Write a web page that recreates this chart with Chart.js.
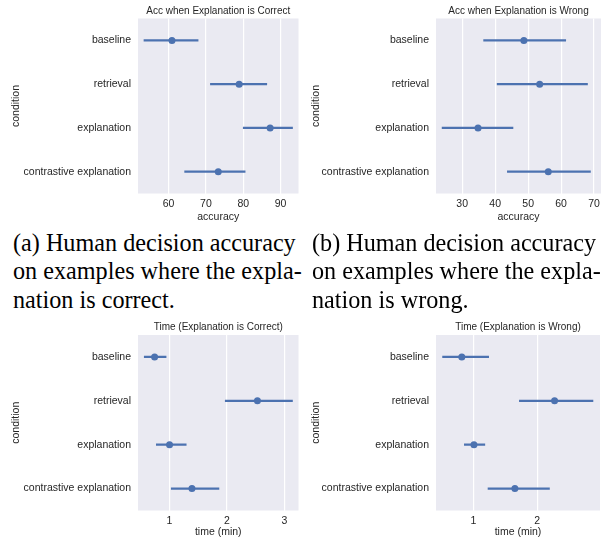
<!DOCTYPE html>
<html><head><meta charset="utf-8">
<script src="https://cdn.jsdelivr.net/npm/chart.js@4"></script>
<style>
html,body{margin:0;padding:0;background:#fff;}
body{width:605px;height:539px;position:relative;overflow:hidden;}
.p{position:absolute;}
.cap{position:absolute;font-family:"Liberation Serif","Times New Roman",serif;font-size:24.2px;line-height:28.7px;color:#000;white-space:nowrap;}
</style></head><body>
<div class="p" style="left:0;top:0;width:302px;height:224px"><canvas id="c1"></canvas></div>
<div class="p" style="left:300px;top:0;width:305px;height:224px"><canvas id="c2"></canvas></div>
<div class="p" style="left:0;top:316px;width:302px;height:223px"><canvas id="c3"></canvas></div>
<div class="p" style="left:300px;top:316px;width:305px;height:223px"><canvas id="c4"></canvas></div>
<div class="cap" style="left:13px;top:228.6px">(a) Human decision accuracy<br>on examples where the expla-<br>nation is correct.</div>
<div class="cap" style="left:312px;top:228.6px">(b) Human decision accuracy<br>on examples where the expla-<br>nation is wrong.</div>
<script>
const conditions = ['baseline', 'retrieval', 'explanation', 'contrastive explanation'];

const accCorrectMean = [60.9, 78.9, 87.2, 73.3];
const accCorrectLow  = [53.4, 71.2, 80.0, 64.3];
const accCorrectHigh = [67.9, 86.3, 93.2, 80.5];

const accWrongMean = [48.7, 53.5, 34.8, 56.1];
const accWrongLow  = [36.5, 40.6, 23.9, 43.7];
const accWrongHigh = [61.4, 68.0, 45.4, 68.9];

const timeCorrectMean = [0.74, 2.53, 1.00, 1.39];
const timeCorrectLow  = [0.56, 1.97, 0.77, 1.03];
const timeCorrectHigh = [0.94, 3.14, 1.29, 1.86];

const timeWrongMean = [0.82, 2.27, 1.01, 1.65];
const timeWrongLow  = [0.52, 1.72, 0.86, 1.23];
const timeWrongHigh = [1.24, 2.87, 1.18, 2.19];

const accCorrectTicks = [60, 70, 80, 90];
const accWrongTicks = [30, 40, 50, 60, 70];
const timeCorrectTicks = [1, 2, 3];
const timeWrongTicks = [1, 2];

const BLUE = '#4C72B0';
const TXT = '#262626';
const SANS = '"Liberation Sans", Arial, sans-serif';

const bgPlugin = {
  id: 'bg',
  beforeDraw(chart) {
    const a = chart.chartArea, c = chart.ctx;
    c.save(); c.fillStyle = '#EAEAF2';
    c.fillRect(a.left, a.top, a.right - a.left, a.bottom - a.top);
    c.restore();
  }
};

function makeChart(id, title, mean, low, high, ticks, min, max, xTitle, L) {
  new Chart(document.getElementById(id), {
    type: 'bar',
    data: {
      labels: conditions,
      datasets: [
        { type: 'line', data: mean, showLine: false, indexAxis: 'y', order: 0,
          pointRadius: 3.5, pointHoverRadius: 3.5, pointBackgroundColor: BLUE, pointBorderWidth: 0, borderColor: BLUE },
        { type: 'bar', data: low.map((l, i) => [l, high[i]]), indexAxis: 'y', order: 1,
          barThickness: 1.7, backgroundColor: BLUE, borderWidth: 0 }
      ]
    },
    options: {
      indexAxis: 'y',
      responsive: true, maintainAspectRatio: false, animation: false,
      layout: { padding: { left: 0, right: L.right, top: 0, bottom: 0 } },
      plugins: {
        legend: { display: false }, tooltip: { enabled: false },
        title: { display: true, text: title, fullSize: false, color: TXT,
          font: { family: SANS, size: 10, weight: 'normal', lineHeight: 1.2 },
          padding: { top: L.tTop, bottom: L.tBot } }
      },
      scales: {
        x: {
          type: 'linear', position: 'bottom', min: min, max: max,
          afterBuildTicks: s => { s.ticks = ticks.map(v => ({ value: v })); },
          afterFit: s => { s.height = L.xh; },
          grid: { color: '#ffffff', lineWidth: 1.2, drawTicks: false },
          border: { display: false },
          ticks: { padding: L.tp, color: TXT, font: { family: SANS, size: 10.5, lineHeight: 1.2 }, maxRotation: 0 },
          title: { display: true, text: xTitle, color: TXT, font: { family: SANS, size: 10.5, lineHeight: 1.2 },
            padding: { top: 0, bottom: L.xtb } }
        },
        y: {
          type: 'category', position: 'left',
          afterFit: s => { s.width = L.yw; },
          grid: { display: false, drawTicks: false },
          border: { display: false },
          ticks: { padding: 7, color: TXT, font: { family: SANS, size: 10.5, lineHeight: 1.2 } },
          title: { display: true, text: 'condition', color: TXT, font: { family: SANS, size: 10.5, lineHeight: 1.2 },
            padding: { top: 10.2, bottom: 0 } }
        }
      }
    },
    plugins: [bgPlugin]
  });
}

makeChart('c1', 'Acc when Explanation is Correct', accCorrectMean, accCorrectLow, accCorrectHigh,
  accCorrectTicks, 51.8, 94.8, 'accuracy', { right: 1, tTop: 5.5, tBot: 1, xh: 30.5, xtb: 0.4, tp: 4.5, yw: 138 });
makeChart('c2', 'Acc when Explanation is Wrong', accWrongMean, accWrongLow, accWrongHigh,
  accWrongTicks, 22.05, 72.1, 'accuracy', { right: 4, tTop: 5.5, tBot: 1, xh: 30.5, xtb: 0.4, tp: 4.5, yw: 136 });
makeChart('c3', 'Time (Explanation is Correct)', timeCorrectMean, timeCorrectLow, timeCorrectHigh,
  timeCorrectTicks, 0.451, 3.245, 'time (min)', { right: 1, tTop: 5.5, tBot: 1.5, xh: 28.5, xtb: 0.2, tp: 4, yw: 138 });
makeChart('c4', 'Time (Explanation is Wrong)', timeWrongMean, timeWrongLow, timeWrongHigh,
  timeWrongTicks, 0.417, 2.98, 'time (min)', { right: 5, tTop: 5.5, tBot: 1.5, xh: 28.5, xtb: 0.2, tp: 4, yw: 136 });
</script>
</body></html>
